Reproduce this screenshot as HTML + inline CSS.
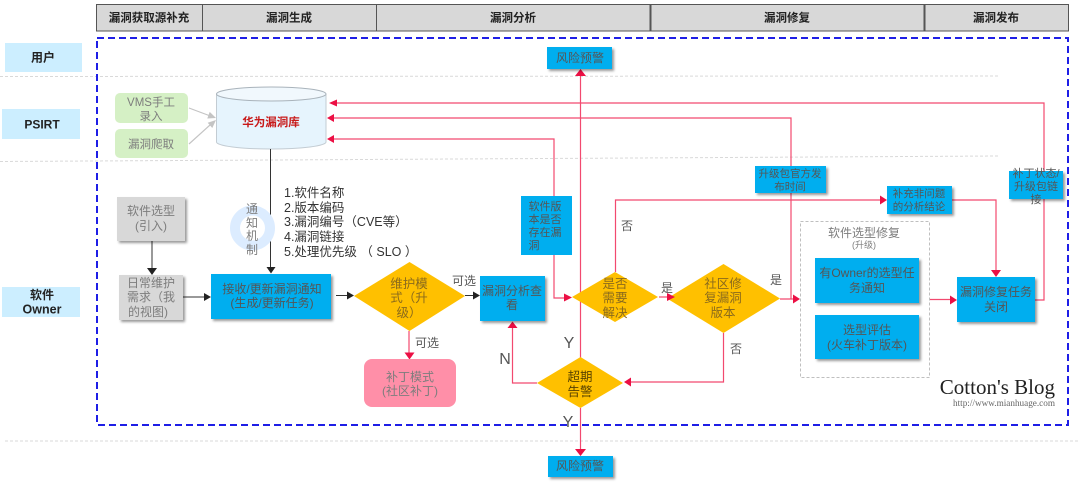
<!DOCTYPE html>
<html lang="zh">
<head>
<meta charset="utf-8">
<title>漏洞管理流程</title>
<style>
html,body{margin:0;padding:0;background:#fff}
svg{display:block;filter:blur(.3px)}
text{font-family:"Liberation Sans","Noto Sans CJK SC",sans-serif;text-anchor:middle;fill:#666;font-size:12px}
.h{font-weight:700;fill:#222;font-size:11.5px}
.b{font-weight:700;fill:#222;font-size:12px}
.n{fill:#555;font-size:12px}
.g{fill:#7d7d7d}
.d{fill:#8a6a1c;font-size:12.5px}
.l{fill:#555;font-size:12px}
.k{fill:#333;font-size:12.5px;text-anchor:start}
.s{font-size:11px}
.r{stroke:#f2496f;stroke-width:1.2;fill:none}
.k1{stroke:#333;stroke-width:1;fill:none}
.blue{fill:#00aeef;filter:url(#s)}
.grey{fill:#d8d8d8;filter:url(#s)}
.y{fill:#ffc000}
</style>
</head>
<body>
<svg width="1080" height="488" viewBox="0 0 1080 488" xmlns="http://www.w3.org/2000/svg">
<defs>
<filter id="s" x="-15%" y="-15%" width="135%" height="140%"><feDropShadow dx="2" dy="2" stdDeviation="1.2" flood-color="#000" flood-opacity=".4"/></filter>
</defs>

<!-- header -->
<g fill="#d8d8d8" stroke="#555" stroke-width="1">
<rect x="96.500" y="4.500" width="106" height="26.500"/>
<rect x="202.500" y="4.500" width="174" height="26.500"/>
<rect x="376.500" y="4.500" width="273.500" height="26.500"/>
<rect x="651" y="4.500" width="273" height="26.500"/>
<rect x="925" y="4.500" width="143.500" height="26.500"/>
</g>
<text class="h" x="149" y="21.500">漏洞获取源补充</text>
<text class="h" x="289" y="21.500">漏洞生成</text>
<text class="h" x="513" y="21.500">漏洞分析</text>
<text class="h" x="787" y="21.500">漏洞修复</text>
<text class="h" x="996" y="21.500">漏洞发布</text>

<!-- lanes -->
<g stroke="#d9d9d9" stroke-width="1" stroke-dasharray="3 2" fill="none">
<line x1="0" y1="76.500" x2="998" y2="76"/>
<line x1="0" y1="161.500" x2="998" y2="156"/>
<line x1="5" y1="441" x2="1080" y2="441"/>
</g>
<rect x="5" y="43" width="77" height="29" fill="#cceeff"/>
<rect x="2" y="109" width="78" height="30" fill="#cceeff"/>
<rect x="2" y="287" width="78" height="30" fill="#cceeff"/>
<text class="b" x="43" y="61.500">用户</text>
<text class="b" x="42" y="128.500">PSIRT</text>
<text class="b" x="42" y="299">软件</text>
<text class="b" x="42" y="313.500" style="font-size:12.500px">Owner</text>

<!-- outer dashed -->
<rect x="97" y="38" width="971" height="387" fill="none" stroke="#1f1fe6" stroke-width="2" stroke-dasharray="7 4"/>

<!-- sources -->
<rect x="115" y="93" width="73" height="30" rx="5" fill="#d5f0c5"/>
<rect x="115" y="129" width="73" height="29" rx="5" fill="#d5f0c5"/>
<text class="g" x="151" y="106" style="font-size:11.500px">VMS手工</text>
<text class="g" x="151" y="120" style="font-size:11.500px">录入</text>
<text class="g" x="151" y="148" style="font-size:11.500px">漏洞爬取</text>
<g stroke="#c4c4c4" stroke-width="1.200" fill="none">
<line x1="189" y1="108" x2="209" y2="115.500"/>
<line x1="189" y1="144" x2="210" y2="125"/>
</g>
<polygon points="216,118 209.700,111.900 207.300,118.500" fill="#c4c4c4"/>
<polygon points="216,120 207.700,122.800 212.300,128" fill="#c4c4c4"/>

<!-- DB -->
<path d="M216.500 94 V142 A54.750 7 0 0 0 326 142 V94" fill="#e6f4fd" stroke="#c3ccd3"/>
<ellipse cx="271.250" cy="94" rx="54.750" ry="7" fill="#f1f8fd" stroke="#a9b3bb"/>
<text x="271" y="126" style="fill:#c81a1a;font-weight:700;font-size:11.500px">华为漏洞库</text>

<!-- red connectors -->
<polyline class="r" points="1035,300 1044,300 1044,103 332,103"/>
<polygon points="329,103 337,99.500 337,106.500" fill="#ec0f44"/>
<polyline class="r" points="780,299 791,299 791,118 332,118"/>
<line class="r" x1="791" y1="299" x2="795" y2="299"/>
<polygon points="327,118 334,114 334,122" fill="#ec0f44"/>
<polyline class="r" points="554,196 554,139 332,139"/>
<polygon points="327,139 334,135 334,143" fill="#ec0f44"/>
<polyline class="r" points="554,255 554,298 566,298"/>
<line class="r" x1="580.500" y1="75" x2="580.500" y2="358" stroke-width="1.500"/>
<polygon points="580.500,69 575,76 586,76" fill="#ec0f44"/>
<line class="r" x1="580.500" y1="408" x2="580.500" y2="451" stroke-width="1.500"/>
<polygon points="580.500,456 575,449 586,449" fill="#ec0f44"/>
<polyline class="r" points="615.500,272 615.500,200 882,200"/>
<polygon points="887,200 880,195.500 880,204.500" fill="#ec0f44"/>
<polyline class="r" points="952,200 996,200 996,271"/>
<polygon points="996,277 991,270 1001,270" fill="#ec0f44"/>
<polyline class="r" points="723.500,333 723.500,382 630,382"/>
<polygon points="624,382 631,377.500 631,386.500" fill="#ec0f44"/>
<polyline class="r" points="537,383 512.500,383 512.500,327"/>
<polygon points="512.500,321.500 507.500,328 517.500,328" fill="#ec0f44"/>
<polygon points="800,299 793,294.500 793,303.500" fill="#ec0f44"/>
<line class="r" x1="930" y1="299.500" x2="951" y2="299.500"/>
<polygon points="957,300 950,295.500 950,304.500" fill="#ec0f44"/>
<line class="r" x1="409" y1="331" x2="409" y2="354"/>
<polygon points="409.500,359.500 404.500,352.500 414.500,352.500" fill="#ec0f44"/>

<!-- black connectors -->
<line class="k1" x1="270.500" y1="149" x2="270.500" y2="268" stroke-width="1.300"/>
<polygon points="271,273.500 266.500,267 275.500,267" fill="#222"/>
<line class="k1" x1="152" y1="241" x2="152" y2="270"/>
<polygon points="152,275 147,268 157,268" fill="#222"/>
<line class="k1" x1="183" y1="297" x2="206" y2="297"/>
<polygon points="211,297 204,293 204,301" fill="#222"/>
<line class="k1" x1="336" y1="295.500" x2="349" y2="295.500"/>
<polygon points="354,295.500 347,291.500 347,299.500" fill="#222"/>
<line class="k1" x1="465" y1="295.500" x2="475" y2="295.500"/>
<polygon points="480,295.500 473,291.500 473,299.500" fill="#222"/>

<!-- notify -->
<circle cx="252.500" cy="228" r="17.500" fill="none" stroke="#dcecff" stroke-width="10"/>
<text class="g" x="252" y="213">通</text>
<text class="g" x="252" y="227">知</text>
<text class="g" x="252" y="240">机</text>
<text class="g" x="252" y="254">制</text>
<text class="k" x="284" y="197">1.软件名称</text>
<text class="k" x="284" y="212">2.版本编码</text>
<text class="k" x="284" y="226">3.漏洞编号（CVE等）</text>
<text class="k" x="284" y="241">4.漏洞链接</text>
<text class="k" x="284" y="256">5.处理优先级 （ SLO ）</text>

<!-- grey boxes -->
<rect class="grey" x="117" y="197" width="68" height="44"/>
<rect class="grey" x="119" y="275" width="64" height="45"/>
<text class="g" x="151" y="215">软件选型</text>
<text class="g" x="151" y="230">(引入)</text>
<text class="g" x="151" y="287">日常维护</text>
<text class="g" x="151" y="301">需求（我</text>
<text class="g" x="148" y="316">的视图)</text>

<!-- blue boxes -->
<rect class="blue" x="211" y="274" width="120" height="45"/>
<text class="n" x="272" y="293">接收/更新漏洞通知</text>
<text class="n" x="272" y="307">(生成/更新任务)</text>
<rect class="blue" x="547" y="47" width="65" height="22"/>
<text class="n" x="580" y="62">风险预警</text>
<rect class="blue" x="548" y="456" width="65" height="21"/>
<text class="n" x="580" y="470">风险预警</text>
<rect x="521" y="196" width="51" height="59" fill="#00aeef"/>
<text class="n s" x="545" y="210">软件版</text>
<text class="n s" x="545" y="223">本是否</text>
<text class="n s" x="545" y="236">存在漏</text>
<text class="n s" x="534" y="249">洞</text>
<rect class="blue" x="480" y="276" width="65" height="45"/>
<text class="n" x="512" y="295">漏洞分析查</text>
<text class="n" x="512" y="309">看</text>
<rect class="blue" x="755" y="166" width="71" height="27"/>
<text class="n" x="790" y="177" style="font-size:10.500px">升级包官方发</text>
<text class="n" x="790" y="190" style="font-size:10.500px">布时间</text>
<rect class="blue" x="887" y="186" width="65" height="28"/>
<text class="n" x="919" y="197" style="font-size:10.500px">补充非问题</text>
<text class="n" x="919" y="210" style="font-size:10.500px">的分析结论</text>
<rect class="blue" x="1009" y="171" width="54" height="28"/>
<text class="n s" x="1036" y="177">补丁状态/</text>
<text class="n s" x="1036" y="190">升级包链</text>
<text class="n s" x="1036" y="203">接</text>

<!-- repair group -->
<rect x="800.500" y="221.500" width="129" height="156" fill="none" stroke="#bfbfbf" stroke-dasharray="3 2"/>
<text class="g" x="864" y="237">软件选型修复</text>
<text class="g" x="864" y="248" style="font-size:9px">(升级)</text>
<rect class="blue" x="815" y="258" width="104" height="45"/>
<text class="n" x="867" y="277">有Owner的选型任</text>
<text class="n" x="867" y="292">务通知</text>
<rect class="blue" x="815" y="315" width="104" height="44"/>
<text class="n" x="867" y="334">选型评估</text>
<text class="n" x="867" y="349">(火车补丁版本)</text>
<rect class="blue" x="957" y="277" width="78" height="45"/>
<text class="n" x="996" y="296">漏洞修复任务</text>
<text class="n" x="996" y="311">关闭</text>

<!-- diamonds -->
<polygon class="y" points="409.500,262 465,296 409.500,331 354,296"/>
<text class="d" x="409" y="288">维护模</text>
<text class="d" x="409" y="302">式（升</text>
<text class="d" x="409" y="317">级）</text>
<polygon class="y" points="615,272 658,297 615,322 572,297"/>
<text class="d" x="615" y="288">是否</text>
<text class="d" x="615" y="302">需要</text>
<text class="d" x="615" y="317">解决</text>
<polygon class="y" points="723.500,264 780,298.500 723.500,333 667,298.500"/>
<text class="d" x="723" y="288">社区修</text>
<text class="d" x="723" y="302">复漏洞</text>
<text class="d" x="723" y="317">版本</text>
<polygon class="y" points="580.500,357 623,383 580.500,408 537,383"/>
<text x="580" y="381" style="fill:#5a4300;font-size:12.500px">超期</text>
<text x="580" y="396" style="fill:#5a4300;font-size:12.500px">告警</text>

<!-- arrowheads that sit on top of the diamonds -->
<polygon points="572,297.500 564,293.500 564,301.500" fill="#ec0f44"/>
<line class="r" x1="659" y1="297" x2="668" y2="297"/>
<polygon points="675,297 667,293 667,301" fill="#ec0f44"/>

<!-- pink -->
<rect x="364" y="359" width="92" height="48" rx="8" fill="#ff8fa8"/>
<text class="g" x="410" y="381">补丁模式</text>
<text class="g" x="410" y="395">(社区补丁)</text>

<!-- labels -->
<text class="l" x="464" y="285">可选</text>
<text class="l" x="427" y="347">可选</text>
<text class="l" x="627" y="230">否</text>
<text class="l" x="667" y="292">是</text>
<text class="l" x="776" y="284">是</text>
<text class="l" x="736" y="353">否</text>
<text class="l" x="505" y="364" style="font-size:16px">N</text>
<text class="l" x="569" y="348" style="font-size:16px">Y</text>
<text class="l" x="568" y="427" style="font-size:16px">Y</text>

<!-- watermark -->
<text x="1055" y="394" style="font-family:'Liberation Serif',serif;font-size:21px;fill:#222;text-anchor:end">Cotton's Blog</text>
<text x="1055" y="406" style="font-family:'Liberation Serif',serif;font-size:9.200px;fill:#666;text-anchor:end">http://www.mianhuage.com</text>
</svg>
</body>
</html>
